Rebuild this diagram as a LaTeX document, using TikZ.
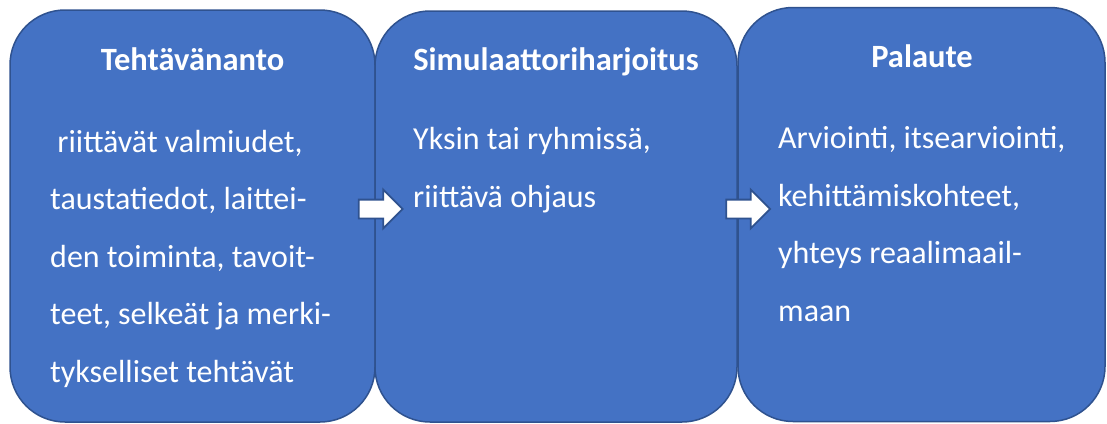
\documentclass[tikz,border=0pt]{standalone}
\usepackage{fontspec}
\setmainfont{Carlito}
\usetikzlibrary{positioning, shapes.arrows}
\definecolor{PanelBlue}{RGB}{68,114,196}
\definecolor{PanelEdge}{RGB}{47,82,143}

\begin{document}
\begin{tikzpicture}[x=1pt, y=-1pt]
        \tikzstyle{panel} = [rectangle, draw=PanelEdge, fill=PanelBlue, line width=1.5pt,
          rounded corners=55pt, inner sep=0pt]
        \tikzstyle{head} = [anchor=base, text=white, inner sep=0pt,
          font=\fontsize{32.5}{39}\selectfont\bfseries]
        \tikzstyle{body} = [anchor=base west, text=white, inner sep=0pt, align=left,
          font=\fontsize{32}{57.5}\selectfont]
        \tikzstyle{flow} = [single arrow, draw=PanelEdge, fill=white, line width=1.8pt,
          minimum height=44pt, single arrow head extend=10pt, inner xsep=0pt, inner ysep=8.5pt]

        \useasboundingbox (0,0) rectangle (1107,423);

        \node[panel, minimum width=365pt, minimum height=412pt] (boxA) at (192.5,216) {};
        \node[panel, minimum width=362pt, minimum height=411pt] (boxB) at (556,216.5) {};
        \node[panel, minimum width=367pt, minimum height=414pt] (boxC) at (921.5,214.5) {};

        \node[head] (headA) at (192.5,70) {Tehtävänanto};
        \node[head] (headB) at (556,70) {Simulaattoriharjoitus};
        \node[head] (headC) at (922,67) {Palaute};

        \node[body] (textA) at (50,382) {\ riittävät valmiudet,\\taustatiedot, laittei-\\den toiminta, tavoit-\\teet, selkeät ja merki-\\tykselliset tehtävät};
        \node[body] (textB) at (413,207) {Yksin tai ryhmissä,\\riittävä ohjaus};
        \node[body] (textC) at (778,321) {Arviointi, itsearviointi,\\kehittämiskohteet,\\yhteys reaalimaail-\\maan};

        \node[flow] (flowAB) at (376,209) {};
        \node[flow] (flowBC) at (743.5,209) {};
      \end{tikzpicture}
\end{document}
